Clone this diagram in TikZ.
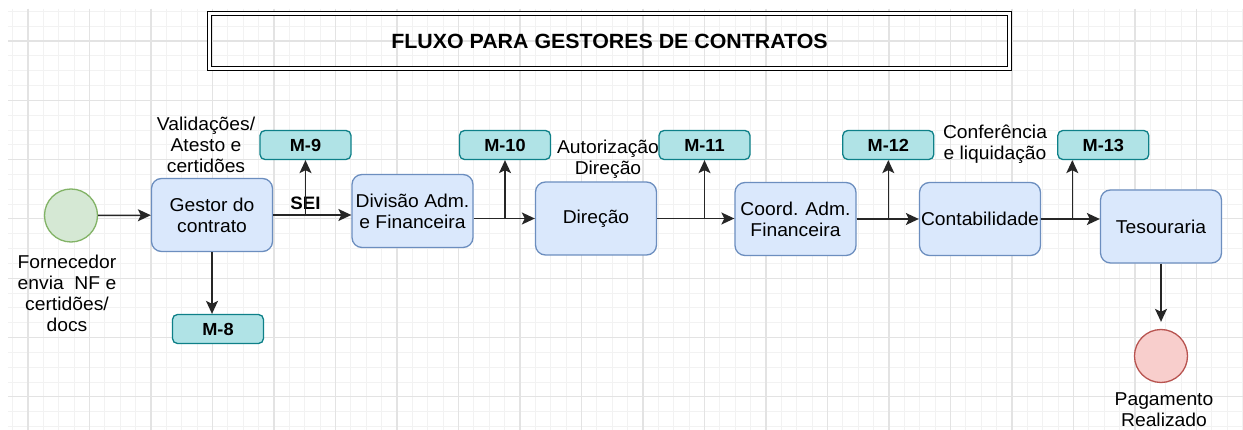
\documentclass[tikz,border=0pt]{standalone}
\usepackage{fontspec}
\setmainfont{Liberation Sans}[FakeStretch=1.037]
\usetikzlibrary{arrows.meta}

\definecolor{procfill}{HTML}{DAE8FC}
\definecolor{procline}{HTML}{6C8EBF}
\definecolor{mfill}{HTML}{B0E3E6}
\definecolor{mline}{HTML}{0E8088}
\definecolor{iniciofill}{HTML}{D5E8D4}
\definecolor{inicioline}{HTML}{82B366}
\definecolor{fimfill}{HTML}{F8CECC}
\definecolor{fimline}{HTML}{B85450}

\begin{document}
\begin{tikzpicture}[x=1pt,y=-1pt,
    every node/.style={font=\fontsize{18.6}{21}\selectfont, align=center, inner sep=1pt},
    proc/.style={draw=procline, fill=procfill, rounded corners=10pt, line width=1.3pt,
        minimum width=121pt, minimum height=73pt},
    mbox/.style={draw=mline, fill=mfill, rounded corners=5pt, line width=1.3pt,
        minimum width=91pt, minimum height=29pt, font=\fontsize{17.5}{21}\selectfont\bfseries},
    evento/.style={circle, line width=1.3pt, minimum size=53pt},
    rotulo/.style={font=\fontsize{18.6}{21}\selectfont},
    rotulob/.style={font=\fontsize{18}{21}\selectfont\bfseries},
    fluxo/.style={-{Stealth[length=13pt,width=12pt,inset=3pt]}, line width=1.5pt, black!85},
    gradeA/.style={black!5, line width=0.8pt},
    gradeB/.style={black!11, line width=1.1pt}]
\useasboundingbox (0,0) rectangle (1243,430);
\fill[white] (0,0) rectangle (1243,430);
% grade de fundo
\begin{scope}
\clip (8,9) rectangle (1243,430);
    \foreach \i in {0,...,80}
    \draw[gradeA] (12.625+15.375*\i,9) -- (12.625+15.375*\i,430);
    \foreach \i in {0,...,28}
    \draw[gradeA] (8,11.35+14.825*\i) -- (1243,11.35+14.825*\i);
    \foreach \i in {0,...,19}
    \draw[gradeB] (28+61.5*\i,9) -- (28+61.5*\i,430);
    \foreach \i in {0,...,6}
    \draw[gradeB] (8,41+59.3*\i) -- (1243,41+59.3*\i);
\end{scope}
% titulo
\node[draw, double, double distance=2.5pt, line width=1pt, minimum width=800pt,
    minimum height=55pt, font=\fontsize{20.6}{24}\selectfont\bfseries] (titulo)
    at (609.5,41) {FLUXO PARA GESTORES DE CONTRATOS};
% textos soltos
\node[rotulo] (txtforn) at (67,293) {Fornecedor\\envia~ NF e\\certidões/\\docs};
\node[rotulo] (txtvalid) at (206,144.5) {Validações/\\Atesto e\\certidões};
\node[rotulob] (txtsei) at (305.5,203) {SEI};
\node[rotulo] (txtaut) at (608,159.5) {Autorização\\Direção};
\node[rotulo] (txtconf) at (995,144) {Conferência\\e liquidação};
\node[rotulo] (txtpag) at (1164,410) {Pagamento\\Realizado};
% eventos
\node[evento, draw=inicioline, fill=iniciofill] (inicio) at (71,215.5) {};
\node[evento, draw=fimline, fill=fimfill] (fim) at (1161,356) {};
% etapas
\node[proc] (gestor) at (212,215) {Gestor do\\contrato};
\node[proc] (divisao) at (412.5,211) {Divisão Adm.\\e Financeira};
\node[proc] (direcao) at (596,218.5) {Direção};
\node[proc] (coord) at (795.5,219) {Coord. Adm.\\Financeira};
\node[proc] (contab) at (980,219) {Contabilidade};
\node[proc] (tesouraria) at (1161,226.5) {Tesouraria};
% modelos
\node[mbox] (m8) at (218,329) {M-8};
\node[mbox] (m9) at (305.5,145) {M-9};
\node[mbox] (m10) at (505,145) {M-10};
\node[mbox] (m11) at (704.5,145) {M-11};
\node[mbox] (m12) at (888.3,145) {M-12};
\node[mbox] (m13) at (1103.3,145) {M-13};
% ligacoes
\draw[fluxo] (inicio) -- (gestor);
\draw[fluxo] (gestor.east) -- (gestor.east -| divisao.west);
\draw[fluxo] (gestor.east -| m9.south) -- (m9.south);
\draw[fluxo] (gestor.south) -- (gestor.south |- m8.north);
\draw[fluxo] (divisao.east |- direcao.west) -- (direcao.west);
\draw[fluxo] (direcao.west -| m10.south) -- (m10.south);
\draw[fluxo] (direcao.east) -- (direcao.east -| coord.west);
\draw[fluxo] (direcao.east -| m11.south) -- (m11.south);
\draw[fluxo] (coord.east) -- (contab.west);
\draw[fluxo] (coord.east -| m12.south) -- (m12.south);
\draw[fluxo] (contab.east) -- (contab.east -| tesouraria.west);
\coordinate (ramo13) at ([xshift=-31pt]m13.south);
\draw[fluxo] (contab.east -| ramo13) -- (ramo13);
\draw[fluxo, shorten >=7pt] (tesouraria.south) -- (fim.north);
\end{tikzpicture}
\end{document}
